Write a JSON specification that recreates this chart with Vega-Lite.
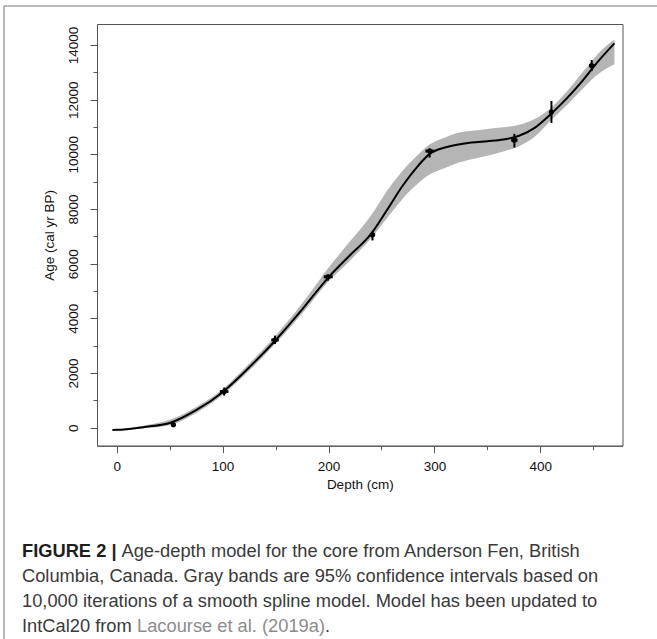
{
  "$schema": "https://vega.github.io/schema/vega-lite/v6.json",
  "width": 525.5,
  "height": 421.7,
  "autosize": {"type": "none"},
  "padding": {"left": 97, "top": 24, "right": 34.5, "bottom": 193.3},
  "background": "white",
  "config": {"view": {"stroke": "#555", "strokeWidth": 1}, "font": "Liberation Sans"},
  "datasets": {
    "model": [
      {"depth": -4, "age": -85, "lo": -110, "hi": -60},
      {"depth": 0, "age": -80, "lo": -105, "hi": -55},
      {"depth": 25, "age": 20, "lo": -25, "hi": 70},
      {"depth": 50, "age": 170, "lo": 90, "hi": 290},
      {"depth": 75, "age": 640, "lo": 540, "hi": 760},
      {"depth": 100, "age": 1300, "lo": 1200, "hi": 1410},
      {"depth": 125, "age": 2200, "lo": 2080, "hi": 2340},
      {"depth": 150, "age": 3200, "lo": 3080, "hi": 3360},
      {"depth": 175, "age": 4320, "lo": 4170, "hi": 4540},
      {"depth": 200, "age": 5500, "lo": 5350, "hi": 5850},
      {"depth": 220, "age": 6300, "lo": 6100, "hi": 6800},
      {"depth": 240, "age": 7080, "lo": 6920, "hi": 7750},
      {"depth": 255, "age": 7950, "lo": 7650, "hi": 8650},
      {"depth": 270, "age": 8850, "lo": 8380, "hi": 9400},
      {"depth": 285, "age": 9600, "lo": 8950, "hi": 10000},
      {"depth": 295, "age": 10000, "lo": 9250, "hi": 10350},
      {"depth": 310, "age": 10250, "lo": 9500, "hi": 10620},
      {"depth": 320, "age": 10340, "lo": 9660, "hi": 10760},
      {"depth": 335, "age": 10430, "lo": 9820, "hi": 10860},
      {"depth": 350, "age": 10480, "lo": 9950, "hi": 10930},
      {"depth": 365, "age": 10540, "lo": 10100, "hi": 10990},
      {"depth": 380, "age": 10680, "lo": 10300, "hi": 11080},
      {"depth": 395, "age": 10980, "lo": 10650, "hi": 11300},
      {"depth": 410, "age": 11480, "lo": 11250, "hi": 11700},
      {"depth": 425, "age": 12050, "lo": 11800, "hi": 12300},
      {"depth": 440, "age": 12700, "lo": 12400, "hi": 13000},
      {"depth": 455, "age": 13420, "lo": 12950, "hi": 13700},
      {"depth": 470, "age": 14060, "lo": 13300, "hi": 14200}
    ],
    "dates": [
      {"depth": 53.5, "age": 110, "agelo": 30, "agehi": 200, "dlo": 51.5, "dhi": 55.5},
      {"depth": 101.5, "age": 1320, "agelo": 1170, "agehi": 1470, "dlo": 97.5, "dhi": 105.5},
      {"depth": 149.5, "age": 3210, "agelo": 3060, "agehi": 3370, "dlo": 146, "dhi": 153},
      {"depth": 199.5, "age": 5520, "agelo": 5380, "agehi": 5600, "dlo": 195.5, "dhi": 204},
      {"depth": 241.5, "age": 7060, "agelo": 6850, "agehi": 7180, "dlo": 239, "dhi": 244},
      {"depth": 295.5, "age": 10120, "agelo": 9880, "agehi": 10220, "dlo": 291.5, "dhi": 299.5},
      {"depth": 375.5, "age": 10520, "agelo": 10250, "agehi": 10750, "dlo": 372.5, "dhi": 378.5},
      {"depth": 410.5, "age": 11550, "agelo": 11150, "agehi": 11950, "dlo": 409, "dhi": 412},
      {"depth": 448.5, "age": 13250, "agelo": 13050, "agehi": 13450, "dlo": 446, "dhi": 451}
    ],
    "caption": [
      {"line": 1, "seg": "lead", "text": "FIGURE 2 |"},
      {"line": 1, "seg": "after", "text": "Age-depth model for the core from Anderson Fen, British"},
      {"line": 2, "seg": "plain", "text": "Columbia, Canada. Gray bands are 95% confidence intervals based on"},
      {"line": 3, "seg": "plain", "text": "10,000 iterations of a smooth spline model. Model has been updated to"},
      {"line": 4, "seg": "plain", "text": "IntCal20 from"},
      {"line": 4, "seg": "link", "text": "Lacourse et al. (2019a)"},
      {"line": 4, "seg": "end", "text": "."}
    ]
  },
  "layer": [
    {
      "data": {"name": "model"},
      "mark": {"type": "area", "color": "#b5b5b5", "interpolate": "monotone", "opacity": 1},
      "encoding": {
        "x": {"field": "depth", "type": "quantitative",
          "scale": {"domain": [-18.6, 477.6], "nice": false, "zero": false},
          "axis": {"orient": "bottom", "title": "Depth (cm)",
            "values": [0, 50, 100, 150, 200, 250, 300, 350, 400, 450],
            "labelExpr": "datum.value % 100 === 0 ? datum.label : ''",
            "tickSize": {"condition": {"test": "datum.value % 100 === 0", "value": 7}, "value": 4},
            "domainColor": "#555", "tickColor": "#555", "grid": false,
            "labelFont": "Liberation Sans", "labelFontSize": 13.5, "labelColor": "#111",
            "labelPadding": 7, "labelFlush": false, "labelOverlap": false,
            "titleFont": "Liberation Sans", "titleFontSize": 13.5, "titleFontWeight": "normal", "titleColor": "#111", "titlePadding": 4}},
        "y": {"field": "lo", "type": "quantitative",
          "scale": {"domain": [-659, 14769], "nice": false, "zero": false},
          "axis": {"orient": "left", "title": "Age (cal yr BP)",
            "values": [0, 1000, 2000, 3000, 4000, 5000, 6000, 7000, 8000, 9000, 10000, 11000, 12000, 13000, 14000],
            "format": "d",
            "labelExpr": "datum.value % 2000 === 0 ? datum.label : ''",
            "tickSize": {"condition": {"test": "datum.value % 2000 === 0", "value": 7}, "value": 4},
            "domainColor": "#555", "tickColor": "#555", "grid": false,
            "labelAngle": -90, "labelAlign": "center", "labelBaseline": "bottom",
            "labelFont": "Liberation Sans", "labelFontSize": 13.5, "labelColor": "#111",
            "labelPadding": 10, "labelFlush": false, "labelOverlap": false,
            "titleFont": "Liberation Sans", "titleFontSize": 13.5, "titleFontWeight": "normal", "titleColor": "#111", "titlePadding": 10}},
        "y2": {"field": "hi"}
      }
    },
    {
      "data": {"name": "model"},
      "mark": {"type": "line", "color": "black", "strokeWidth": 2, "interpolate": "monotone"},
      "encoding": {
        "x": {"field": "depth", "type": "quantitative", "scale": {"domain": [-18.6, 477.6], "nice": false, "zero": false}, "axis": null},
        "y": {"field": "age", "type": "quantitative", "scale": {"domain": [-659, 14769], "nice": false, "zero": false}, "axis": null}
      }
    },
    {
      "data": {"name": "dates"},
      "mark": {"type": "rule", "color": "black", "strokeWidth": 2},
      "encoding": {
        "x": {"field": "depth", "type": "quantitative", "scale": {"domain": [-18.6, 477.6], "nice": false, "zero": false}, "axis": null},
        "y": {"field": "agelo", "type": "quantitative", "scale": {"domain": [-659, 14769], "nice": false, "zero": false}, "axis": null},
        "y2": {"field": "agehi"}
      }
    },
    {
      "data": {"name": "dates"},
      "mark": {"type": "rule", "color": "black", "strokeWidth": 3},
      "encoding": {
        "x": {"field": "dlo", "type": "quantitative", "scale": {"domain": [-18.6, 477.6], "nice": false, "zero": false}, "axis": null},
        "x2": {"field": "dhi"},
        "y": {"field": "age", "type": "quantitative", "scale": {"domain": [-659, 14769], "nice": false, "zero": false}, "axis": null}
      }
    },
    {
      "data": {"name": "dates"},
      "mark": {"type": "point", "filled": true, "color": "black", "size": 26, "opacity": 1},
      "encoding": {
        "x": {"field": "depth", "type": "quantitative", "scale": {"domain": [-18.6, 477.6], "nice": false, "zero": false}, "axis": null},
        "y": {"field": "age", "type": "quantitative", "scale": {"domain": [-659, 14769], "nice": false, "zero": false}, "axis": null}
      }
    },
    {
      "data": {"values": [{}]},
      "layer": [
        {
          "mark": {"type": "rule", "color": "#777", "strokeWidth": 1},
          "encoding": {
            "x": {"datum": 0, "type": "quantitative", "scale": {"domain": [0, 1], "range": [-93, 560], "nice": false, "zero": false}, "axis": null},
            "x2": {"datum": 1},
            "y": {"datum": 1, "type": "quantitative", "scale": {"domain": [0, 1], "range": [615, -18], "nice": false, "zero": false}, "axis": null}
          }
        },
        {
          "mark": {"type": "rule", "color": "#777", "strokeWidth": 1},
          "encoding": {
            "x": {"datum": 0, "type": "quantitative", "scale": {"domain": [0, 1], "range": [-93, 560], "nice": false, "zero": false}, "axis": null},
            "y": {"datum": 0, "type": "quantitative", "scale": {"domain": [0, 1], "range": [615, -18], "nice": false, "zero": false}, "axis": null},
            "y2": {"datum": 1}
          }
        }
      ]
    },
    {
      "data": {"name": "caption"},
      "layer": [
        {
          "transform": [{"filter": "datum.seg === 'lead'"}],
          "mark": {"type": "text", "align": "left", "baseline": "alphabetic", "font": "Liberation Sans", "fontSize": 18.3, "fontWeight": "bold", "color": "#1e1e1e"},
          "encoding": {
            "x": {"datum": 0, "type": "quantitative", "scale": {"domain": [0, 1], "range": [-75, 560], "nice": false, "zero": false}, "axis": null},
            "y": {"field": "line", "type": "quantitative", "scale": {"domain": [1, 4], "range": [533, 608], "nice": false, "zero": false}, "axis": null},
            "text": {"field": "text"}
          }
        },
        {
          "transform": [{"filter": "datum.seg === 'after'"}],
          "mark": {"type": "text", "align": "left", "baseline": "alphabetic", "font": "Liberation Sans", "fontSize": 18.3, "color": "#3a3a3a", "dx": 99.5},
          "encoding": {
            "x": {"datum": 0, "type": "quantitative", "scale": {"domain": [0, 1], "range": [-75, 560], "nice": false, "zero": false}, "axis": null},
            "y": {"field": "line", "type": "quantitative", "scale": {"domain": [1, 4], "range": [533, 608], "nice": false, "zero": false}, "axis": null},
            "text": {"field": "text"}
          }
        },
        {
          "transform": [{"filter": "datum.seg === 'plain'"}],
          "mark": {"type": "text", "align": "left", "baseline": "alphabetic", "font": "Liberation Sans", "fontSize": 18.3, "color": "#3a3a3a"},
          "encoding": {
            "x": {"datum": 0, "type": "quantitative", "scale": {"domain": [0, 1], "range": [-75, 560], "nice": false, "zero": false}, "axis": null},
            "y": {"field": "line", "type": "quantitative", "scale": {"domain": [1, 4], "range": [533, 608], "nice": false, "zero": false}, "axis": null},
            "text": {"field": "text"}
          }
        },
        {
          "transform": [{"filter": "datum.seg === 'link'"}],
          "mark": {"type": "text", "align": "left", "baseline": "alphabetic", "font": "Liberation Sans", "fontSize": 18.3, "color": "#8c8c8c", "dx": 115},
          "encoding": {
            "x": {"datum": 0, "type": "quantitative", "scale": {"domain": [0, 1], "range": [-75, 560], "nice": false, "zero": false}, "axis": null},
            "y": {"field": "line", "type": "quantitative", "scale": {"domain": [1, 4], "range": [533, 608], "nice": false, "zero": false}, "axis": null},
            "text": {"field": "text"}
          }
        },
        {
          "transform": [{"filter": "datum.seg === 'end'"}],
          "mark": {"type": "text", "align": "left", "baseline": "alphabetic", "font": "Liberation Sans", "fontSize": 18.3, "color": "#3a3a3a", "dx": 303},
          "encoding": {
            "x": {"datum": 0, "type": "quantitative", "scale": {"domain": [0, 1], "range": [-75, 560], "nice": false, "zero": false}, "axis": null},
            "y": {"field": "line", "type": "quantitative", "scale": {"domain": [1, 4], "range": [533, 608], "nice": false, "zero": false}, "axis": null},
            "text": {"field": "text"}
          }
        }
      ]
    }
  ],
  "resolve": {"scale": {"x": "independent", "y": "independent"}}
}
